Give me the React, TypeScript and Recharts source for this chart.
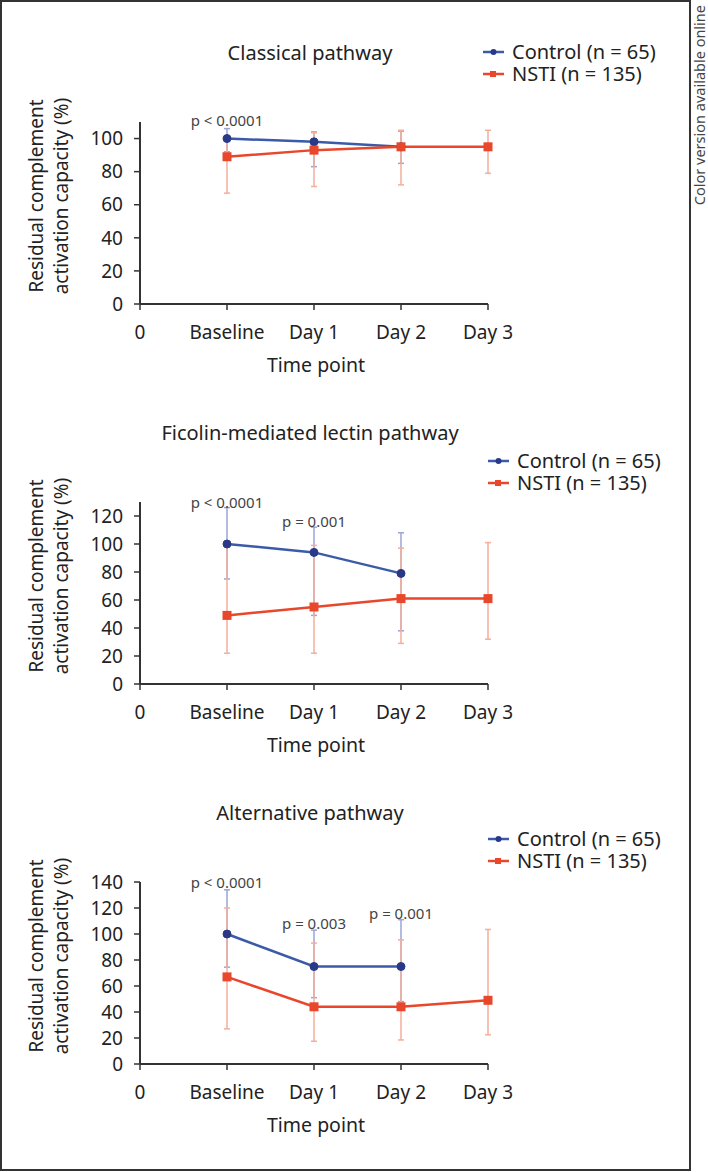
import {
  ErrorBar,
  Label,
  Legend,
  Line,
  LineChart,
  ReferenceDot,
  XAxis,
  YAxis,
} from "recharts";

const xTickLabels = ["0", "Baseline", "Day 1", "Day 2", "Day 3"];
const timeIndex = [1, 2, 3, 4];

// Classical pathway
const classicalControl = [100, 98, 95, null];
const classicalControlLow = [92, 83, 85, null];
const classicalControlHigh = [106, 104, 104.5, null];
const classicalNsti = [89, 93, 95, 95];
const classicalNstiLow = [67, 71, 72, 79];
const classicalNstiHigh = [100, 103.5, 105, 105];

// Ficolin-mediated lectin pathway
const ficolinControl = [100, 94, 79, null];
const ficolinControlLow = [75, 49, 38, null];
const ficolinControlHigh = [126, 112, 108, null];
const ficolinNsti = [49, 55, 61, 61];
const ficolinNstiLow = [22, 22, 29, 32];
const ficolinNstiHigh = [99, 99, 97, 101];

// Alternative pathway
const alternativeControl = [100, 75, 75, null];
const alternativeControlLow = [74.5, 51, 48, null];
const alternativeControlHigh = [134, 103, 111, null];
const alternativeNsti = [67, 44, 44, 49];
const alternativeNstiLow = [27, 17.5, 18.5, 22.5];
const alternativeNstiHigh = [120, 93, 95.5, 103.5];

const classicalPValues = [{ x: 1, y: 111, text: "p < 0.0001" }];
const ficolinPValues = [
  { x: 1, y: 130, text: "p < 0.0001" },
  { x: 2, y: 116.5, text: "p = 0.001" },
];
const alternativePValues = [
  { x: 1, y: 140, text: "p < 0.0001" },
  { x: 2, y: 108.5, text: "p = 0.003" },
  { x: 3, y: 116, text: "p = 0.001" },
];

const FONT = "'Noto Sans', 'Open Sans', sans-serif";
const BLUE = "#3b5aa8";
const BLUE_DOT = "#2a3888";
const BLUE_ERR = "#9aa5d6";
const RED = "#e8472c";
const RED_ERR = "#f4ae9a";
const INK = "#222";

type Num = number | null;

const buildRows = (
  ctrl: Num[],
  ctrlLow: Num[],
  ctrlHigh: Num[],
  nsti: Num[],
  nstiLow: Num[],
  nstiHigh: Num[]
) =>
  timeIndex.map((x, i) => {
    const c = ctrl[i];
    const n = nsti[i];
    return {
      x,
      control: c,
      controlErr:
        c == null ? undefined : [c - (ctrlLow[i] as number), (ctrlHigh[i] as number) - c],
      nsti: n,
      nstiErr:
        n == null ? undefined : [n - (nstiLow[i] as number), (nstiHigh[i] as number) - n],
    };
  });

const panels = [
  {
    title: "Classical pathway",
    top: 0,
    yMax: 110,
    yTicks: [0, 20, 40, 60, 80, 100],
    rows: buildRows(
      classicalControl,
      classicalControlLow,
      classicalControlHigh,
      classicalNsti,
      classicalNstiLow,
      classicalNstiHigh
    ),
    pValues: classicalPValues,
    legendTop: 41,
    legendLeft: 483,
  },
  {
    title: "Ficolin-mediated lectin pathway",
    top: 380,
    yMax: 130,
    yTicks: [0, 20, 40, 60, 80, 100, 120],
    rows: buildRows(
      ficolinControl,
      ficolinControlLow,
      ficolinControlHigh,
      ficolinNsti,
      ficolinNstiLow,
      ficolinNstiHigh
    ),
    pValues: ficolinPValues,
    legendTop: 70,
    legendLeft: 488,
  },
  {
    title: "Alternative pathway",
    top: 760,
    yMax: 140,
    yTicks: [0, 20, 40, 60, 80, 100, 120, 140],
    rows: buildRows(
      alternativeControl,
      alternativeControlLow,
      alternativeControlHigh,
      alternativeNsti,
      alternativeNstiLow,
      alternativeNstiHigh
    ),
    pValues: alternativePValues,
    legendTop: 68,
    legendLeft: 488,
  },
];

const SquareDot = (props: any) => {
  const { cx, cy, index } = props;
  if (cx == null || cy == null) return <g key={`sq-${index}`} />;
  return <rect key={`sq-${index}`} x={cx - 4.5} y={cy - 4.5} width={9} height={9} fill={RED} />;
};

const legendItems = [
  { name: "Control (n = 65)", color: BLUE, dot: BLUE_DOT, square: false },
  { name: "NSTI (n = 135)", color: RED, dot: RED, square: true },
];

const LegendBox = () => (
  <div style={{ fontFamily: FONT, fontSize: 20, color: INK }}>
    {legendItems.map((item) => (
      <div key={item.name} style={{ display: "flex", alignItems: "center", height: 22 }}>
        <svg width={21} height={10}>
          <line x1={0} y1={5} x2={21} y2={5} stroke={item.color} strokeWidth={2.5} />
          {item.square ? (
            <rect x={7} y={2} width={6} height={6} fill={item.dot} />
          ) : (
            <circle cx={10.5} cy={5} r={3} fill={item.dot} />
          )}
        </svg>
        <span style={{ marginLeft: 8, whiteSpace: "nowrap", lineHeight: "20px" }}>
          {item.name}
        </span>
      </div>
    ))}
  </div>
);

// y title centre sits a little below the middle of the plot area
const Y_TITLE_CY = 196;

const YTitle = () => (
  <g fontFamily={FONT} fontSize={19} fill={INK}>
    <text
      x={36}
      y={Y_TITLE_CY}
      transform={`rotate(-90 36 ${Y_TITLE_CY})`}
      textAnchor="middle"
      dominantBaseline="central"
    >
      Residual complement
    </text>
    <text
      x={61}
      y={Y_TITLE_CY}
      transform={`rotate(-90 61 ${Y_TITLE_CY})`}
      textAnchor="middle"
      dominantBaseline="central"
    >
      activation capacity (%)
    </text>
  </g>
);

const XTitle = ({ viewBox }: any) => (
  <text
    x={viewBox.x + viewBox.width / 2 + 2}
    y={viewBox.y + 60}
    textAnchor="middle"
    dominantBaseline="central"
    fontFamily={FONT}
    fontSize={19.5}
    fill={INK}
  >
    Time point
  </text>
);

const Panel = ({ panel }: { panel: (typeof panels)[number] }) => (
  <div style={{ position: "absolute", left: 0, top: panel.top }}>
    <LineChart
      width={708}
      height={390}
      data={panel.rows}
      margin={{ top: 78, right: 220, bottom: 26, left: 0 }}
    >
      <text
        x={310}
        y={52}
        textAnchor="middle"
        dominantBaseline="central"
        fontFamily={FONT}
        fontSize={20}
        fill={INK}
      >
        {panel.title}
      </text>
      <XAxis
        type="number"
        dataKey="x"
        domain={[0, 4]}
        ticks={[0, 1, 2, 3, 4]}
        tickFormatter={(v: number) => xTickLabels[v]}
        height={60}
        tickSize={6}
        tickMargin={16}
        axisLine={{ stroke: "#333", strokeWidth: 2 }}
        tickLine={{ stroke: "#333", strokeWidth: 1.5 }}
        tick={{ fontFamily: FONT, fontSize: 19, fill: INK }}
        interval={0}
      >
        <Label content={XTitle} />
      </XAxis>
      <YAxis
        type="number"
        domain={[0, panel.yMax]}
        ticks={panel.yTicks}
        width={140}
        tickSize={6}
        tickMargin={11}
        axisLine={{ stroke: "#333", strokeWidth: 2 }}
        tickLine={{ stroke: "#333", strokeWidth: 1.5 }}
        tick={{ fontFamily: FONT, fontSize: 19, fill: INK }}
        interval={0}
      >
        <Label content={YTitle} />
      </YAxis>
      <Legend
        layout="vertical"
        align="center"
        verticalAlign="top"
        wrapperStyle={{ top: panel.legendTop, left: panel.legendLeft, width: 215 }}
        content={() => <LegendBox />}
      />
      <Line
        type="linear"
        dataKey="control"
        stroke={BLUE}
        strokeWidth={2.5}
        dot={{ r: 4, fill: BLUE_DOT, stroke: BLUE_DOT, strokeWidth: 1 }}
        isAnimationActive={false}
        legendType="line"
      >
        <ErrorBar dataKey="controlErr" stroke={BLUE_ERR} strokeWidth={1.5} width={3} direction="y" />
      </Line>
      <Line
        type="linear"
        dataKey="nsti"
        stroke={RED}
        strokeWidth={2.5}
        dot={<SquareDot />}
        isAnimationActive={false}
        legendType="line"
      >
        <ErrorBar dataKey="nstiErr" stroke={RED_ERR} strokeWidth={1.5} width={3} direction="y" />
      </Line>
      {panel.pValues.map((p) => (
        <ReferenceDot
          key={p.text + p.x}
          x={p.x}
          y={p.y}
          r={0}
          ifOverflow="visible"
          shape={(props: any) => (
            <text
              x={props.cx}
              y={props.cy}
              textAnchor="middle"
              dominantBaseline="central"
              fontFamily={FONT}
              fontSize={15}
              fill="#444"
            >
              {p.text}
            </text>
          )}
        />
      ))}
    </LineChart>
  </div>
);

export default function App() {
  return (
    <div
      style={{
        position: "absolute",
        left: 0,
        top: 0,
        width: 708,
        height: 1172,
        background: "#fff",
        overflow: "hidden",
      }}
    >
      <div
        style={{
          position: "absolute",
          left: 0,
          top: 0,
          width: 691,
          height: 1171,
          border: "2px solid #333",
          boxSizing: "border-box",
        }}
      />
      {panels.map((panel) => (
        <Panel key={panel.title} panel={panel} />
      ))}
      <div
        style={{
          position: "absolute",
          left: 692,
          top: 5,
          writingMode: "vertical-rl",
          transform: "rotate(180deg)",
          fontFamily: FONT,
          fontSize: 14.5,
          lineHeight: "15px",
          color: "#444",
          whiteSpace: "nowrap",
        }}
      >
        Color version available online
      </div>
    </div>
  );
}
